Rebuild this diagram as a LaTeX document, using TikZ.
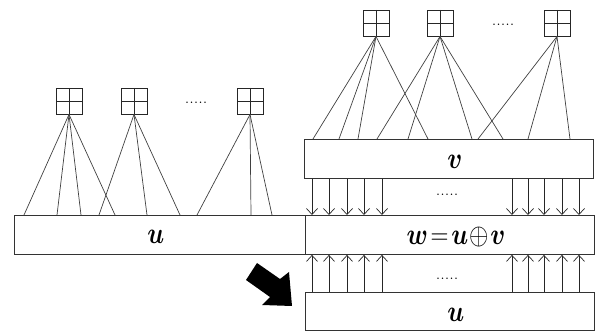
\documentclass[tikz,border=0pt]{standalone}
\usepackage{bm}
\usepackage{graphicx}
\usetikzlibrary{calc,arrows.meta}
\newcommand{\tallmath}[1]{\scalebox{1}[1.2]{$#1$}}
\begin{document}
\begin{tikzpicture}[x=1pt,y=-1pt,
  bar/.style={draw=black!80,line width=0.9pt,fill=white,inner sep=0pt},
  label/.style={font=\fontsize{25}{25}\selectfont,inner sep=0pt},
  gridbox/.style={draw=black!85,line width=0.9pt,minimum size=26pt,inner sep=0pt,
    path picture={\draw[black!85,line width=0.9pt]
      (path picture bounding box.north) -- (path picture bounding box.south)
      (path picture bounding box.west) -- (path picture bounding box.east);}},
  link/.style={draw=black!75,line width=0.7pt},
  flow/.style={draw=black!85,line width=0.7pt,-{Straight Barb[length=6pt,width=11pt]}},
  dots/.style={inner sep=0pt,anchor=base,font=\fontsize{18}{18}\selectfont}
]
\useasboundingbox (0,0) rectangle (595,331);
% boxes
\node[bar,anchor=north west,minimum width=291pt,minimum height=39pt] (uL) at (14,215) {};
\node[bar,anchor=north west,minimum width=289pt,minimum height=39pt] (v) at (304,139) {};
\node[bar,anchor=north west,minimum width=289pt,minimum height=39pt] (w) at (305,215) {};
\node[bar,anchor=north west,minimum width=289pt,minimum height=38pt] (uB) at (305,292) {};
\node[label] (uLt) at ($(uL.center)+(-4,2)$) {\tallmath{\bm{u}}};
\node[label] (vt) at ($(v.center)+(6,3)$) {\tallmath{\bm{v}}};
\node[label] (wt) at ($(w.center)+(6,2)$) {\tallmath{\bm{w}\mskip2mu{=}\mskip2mu\bm{u}\mskip1mu{\oplus}\mskip1mu\bm{v}}};
\node[label] (uBt) at ($(uB.center)+(6,3)$) {\tallmath{\bm{u}}};
% grid squares
\node[gridbox] (sqA) at (69,101) {};
\node[gridbox] (sqB) at (134,101) {};
\node[gridbox] (sqC) at (250,101) {};
\node[gridbox] (sq1) at (376,23) {};
\node[gridbox] (sq2) at (440,23) {};
\node[gridbox] (sq3) at (557,23) {};
\node[dots] (dA) at (196,104) {.....};
\node[dots] (dT) at (503,26) {.....};
\node[dots] (dM) at (447,196) {.....};
\node[dots] (dN) at (447,280) {.....};
% links to left u box (offsets from its left edge x=14)
\foreach \o in {10,43,67,101} \draw[link] (sqA.south) -- ($(uL.north west)+(\o,0)$);
\foreach \o in {85,133,166} \draw[link] (sqB.south) -- ($(uL.north west)+(\o,0)$);
\foreach \o in {183,237,258} \draw[link] (sqC.south) -- ($(uL.north west)+(\o,0)$);
% links to v box (offsets from its left edge x=304)
\foreach \o in {9,35,54,124} \draw[link] (sq1.south) -- ($(v.north west)+(\o,0)$);
\foreach \o in {73,104,168,199} \draw[link] (sq2.south) -- ($(v.north west)+(\o,0)$);
\foreach \o in {174,224,266} \draw[link] (sq3.south) -- ($(v.north west)+(\o,0)$);
% arrows v -> w and u -> w (offsets from x=305)
\foreach \o in {7,24,42,59,77,207,223,239,257,274} {
  \draw[flow] ($(v.south west)+(\o+1,0)$) -- ($(w.north west)+(\o,0)$);
  \draw[flow] ($(uB.north west)+(\o,0)$) -- ($(w.south west)+(\o,0)$);
}
% big arrow
\fill[black] (246,280) -- (257,263) -- (280,279) -- (289,272) -- (292,306)
  -- (262,305) -- (270,297) -- cycle;
\end{tikzpicture}
\end{document}
